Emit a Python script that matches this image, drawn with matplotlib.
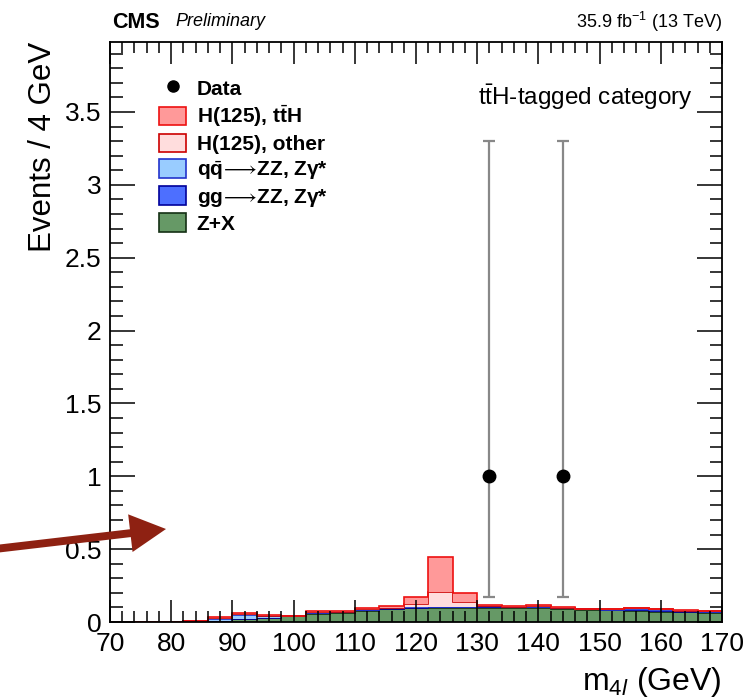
import numpy as np
import matplotlib
matplotlib.use("Agg")
import matplotlib.pyplot as plt
from matplotlib.patches import Patch
from matplotlib.lines import Line2D
from matplotlib.ticker import MultipleLocator

plt.rcParams['font.family'] = ['Liberation Sans', 'DejaVu Sans']
plt.rcParams['mathtext.fontset'] = 'custom'
plt.rcParams['mathtext.rm'] = 'Liberation Sans'
plt.rcParams['mathtext.it'] = 'Liberation Sans:italic'
plt.rcParams['mathtext.bf'] = 'Liberation Sans:bold'
plt.rcParams['mathtext.fallback'] = 'stixsans'

# binning: 4 GeV bins from 70 to 170
edges = np.arange(70, 171, 4)

# stacked components, bottom -> top
zx = [0.001, 0.001, 0.002, 0.003, 0.006, 0.018, 0.026, 0.038, 0.058, 0.065,
      0.078, 0.088, 0.095, 0.098, 0.098, 0.098, 0.097, 0.097, 0.090, 0.083,
      0.080, 0.074, 0.070, 0.068, 0.064]
gg_zz = [0.0, 0.0, 0.0, 0.0, 0.002, 0.003, 0.003, 0.002, 0.003, 0.003,
         0.003, 0.003, 0.003, 0.003, 0.003, 0.004, 0.003, 0.003, 0.003, 0.003,
         0.003, 0.005, 0.004, 0.003, 0.003]
qq_zz = [0.001, 0.001, 0.001, 0.001, 0.015, 0.030, 0.010, 0.002, 0.004, 0.002,
         0.002, 0.002, 0.002, 0.001, 0.001, 0.005, 0.002, 0.003, 0.003, 0.002,
         0.002, 0.012, 0.010, 0.005, 0.004]
h_other = [0.0, 0.0, 0.0, 0.0, 0.003, 0.003, 0.003, 0.000, 0.002, 0.001,
           0.003, 0.004, 0.022, 0.106, 0.034, 0.005, 0.003, 0.004, 0.002, 0.001,
           0.001, 0.002, 0.002, 0.002, 0.002]
h_tth = [0.0, 0.0, 0.0, 0.0, 0.006, 0.006, 0.004, 0.001, 0.006, 0.004,
         0.008, 0.013, 0.047, 0.240, 0.064, 0.007, 0.005, 0.008, 0.002, 0.002,
         0.002, 0.006, 0.006, 0.004, 0.002]

# observed events
data_x = [132, 144]
data_y = [1, 1]
data_lo = [0.827, 0.827]
data_hi = [2.30, 2.30]

components = [
    (zx, '#669966', '#143014', 'Z+X'),
    (gg_zz, '#4d6fff', '#000099', r'gg$\!{\longrightarrow}\!$ZZ, Zγ*'),
    (qq_zz, '#99ccff', '#2233cc', r'q$\bar{\mathbf{q}}\!{\longrightarrow}\!$ZZ, Zγ*'),
    (h_other, '#ffdddd', '#cc0000', 'H(125), other'),
    (h_tth, '#ff9999', '#ee1111', r'H(125), t$\bar{\mathbf{t}}$H'),
]

fig = plt.figure(figsize=(7.5, 6.99), dpi=100)
ax = fig.add_axes([110 / 750, 77 / 699, 612 / 750, 580 / 699])

base = np.zeros(len(edges) - 1)
for vals, fc, ec, lab in components:
    top = base + np.array(vals)
    ax.stairs(top, edges, baseline=base, fill=True, color=fc, lw=0)
    ax.stairs(top, edges, baseline=None, color=ec, lw=1.2)
    base = top

ax.errorbar(data_x, data_y, yerr=[data_lo, data_hi], fmt='o', color='black',
            ms=9, ecolor='#888888', elinewidth=1.6, capsize=4, capthick=1.6)

ax.set_xlim(70, 170)
ax.set_ylim(0, 3.98)
ax.xaxis.set_major_locator(MultipleLocator(10))
ax.xaxis.set_minor_locator(MultipleLocator(2))
ax.yaxis.set_major_locator(MultipleLocator(0.5))
ax.yaxis.set_minor_locator(MultipleLocator(0.1))
ax.set_yticks([0, 0.5, 1, 1.5, 2, 2.5, 3, 3.5])
ax.set_yticklabels(['0', '0.5', '1', '1.5', '2', '2.5', '3', '3.5'])
ax.tick_params(which='both', direction='in', top=True, right=True,
               labelsize=19, width=1.1, color='black')
ax.tick_params(axis='x', which='major', length=16, pad=7)
ax.tick_params(axis='x', which='minor', length=8)
ax.tick_params(axis='y', which='major', length=18, pad=6)
ax.tick_params(axis='y', which='minor', length=9)
for sp in ax.spines.values():
    sp.set_linewidth(1.3)

ax.set_xlabel(r'm$_{4\mathit{l}}$ (GeV)', fontsize=23, loc='right', labelpad=7)
ax.set_ylabel('Events / 4 GeV', fontsize=22.5, loc='top', labelpad=5)

# legend
handles = [Line2D([], [], marker='o', color='black', ls='none', ms=8)]
labels = ['Data']
for vals, fc, ec, lab in components[::-1]:
    handles.append(Patch(facecolor=fc, edgecolor=ec, lw=1.2))
    labels.append(lab)
ax.legend(handles, labels, loc='upper left', bbox_to_anchor=(0.05, 0.97),
          frameon=False, prop={'weight': 'bold', 'size': 15},
          handlelength=1.3, handleheight=1.0, labelspacing=0.22,
          handletextpad=0.5)

ax.text(0.952, 0.905, r't$\bar{\mathrm{t}}$H-tagged category', transform=ax.transAxes,
        ha='right', va='center', fontsize=17.5)

fig.text(112 / 750, 1 - 22 / 699, 'CMS', fontsize=15.5, weight='bold',
         ha='left', va='center')
fig.text(175 / 750, 1 - 22 / 699, 'Preliminary', fontsize=13, style='italic',
         ha='left', va='center')
fig.text(722 / 750, 1 - 22 / 699, r'35.9 fb$^{-1}$ (13 TeV)', fontsize=13,
         ha='right', va='center')

# red arrow pointing at the low-mass region
ax.annotate('', xy=(166, 170), xytext=(-5, 150), xycoords='figure pixels',
            textcoords='figure pixels', annotation_clip=False,
            arrowprops=dict(arrowstyle='simple, head_width=1.3, head_length=1.23, tail_width=0.27',
                            mutation_scale=21, color='#8e2112', lw=0,
                            shrinkA=0, shrinkB=0))

fig.savefig('out.png', dpi=100)
